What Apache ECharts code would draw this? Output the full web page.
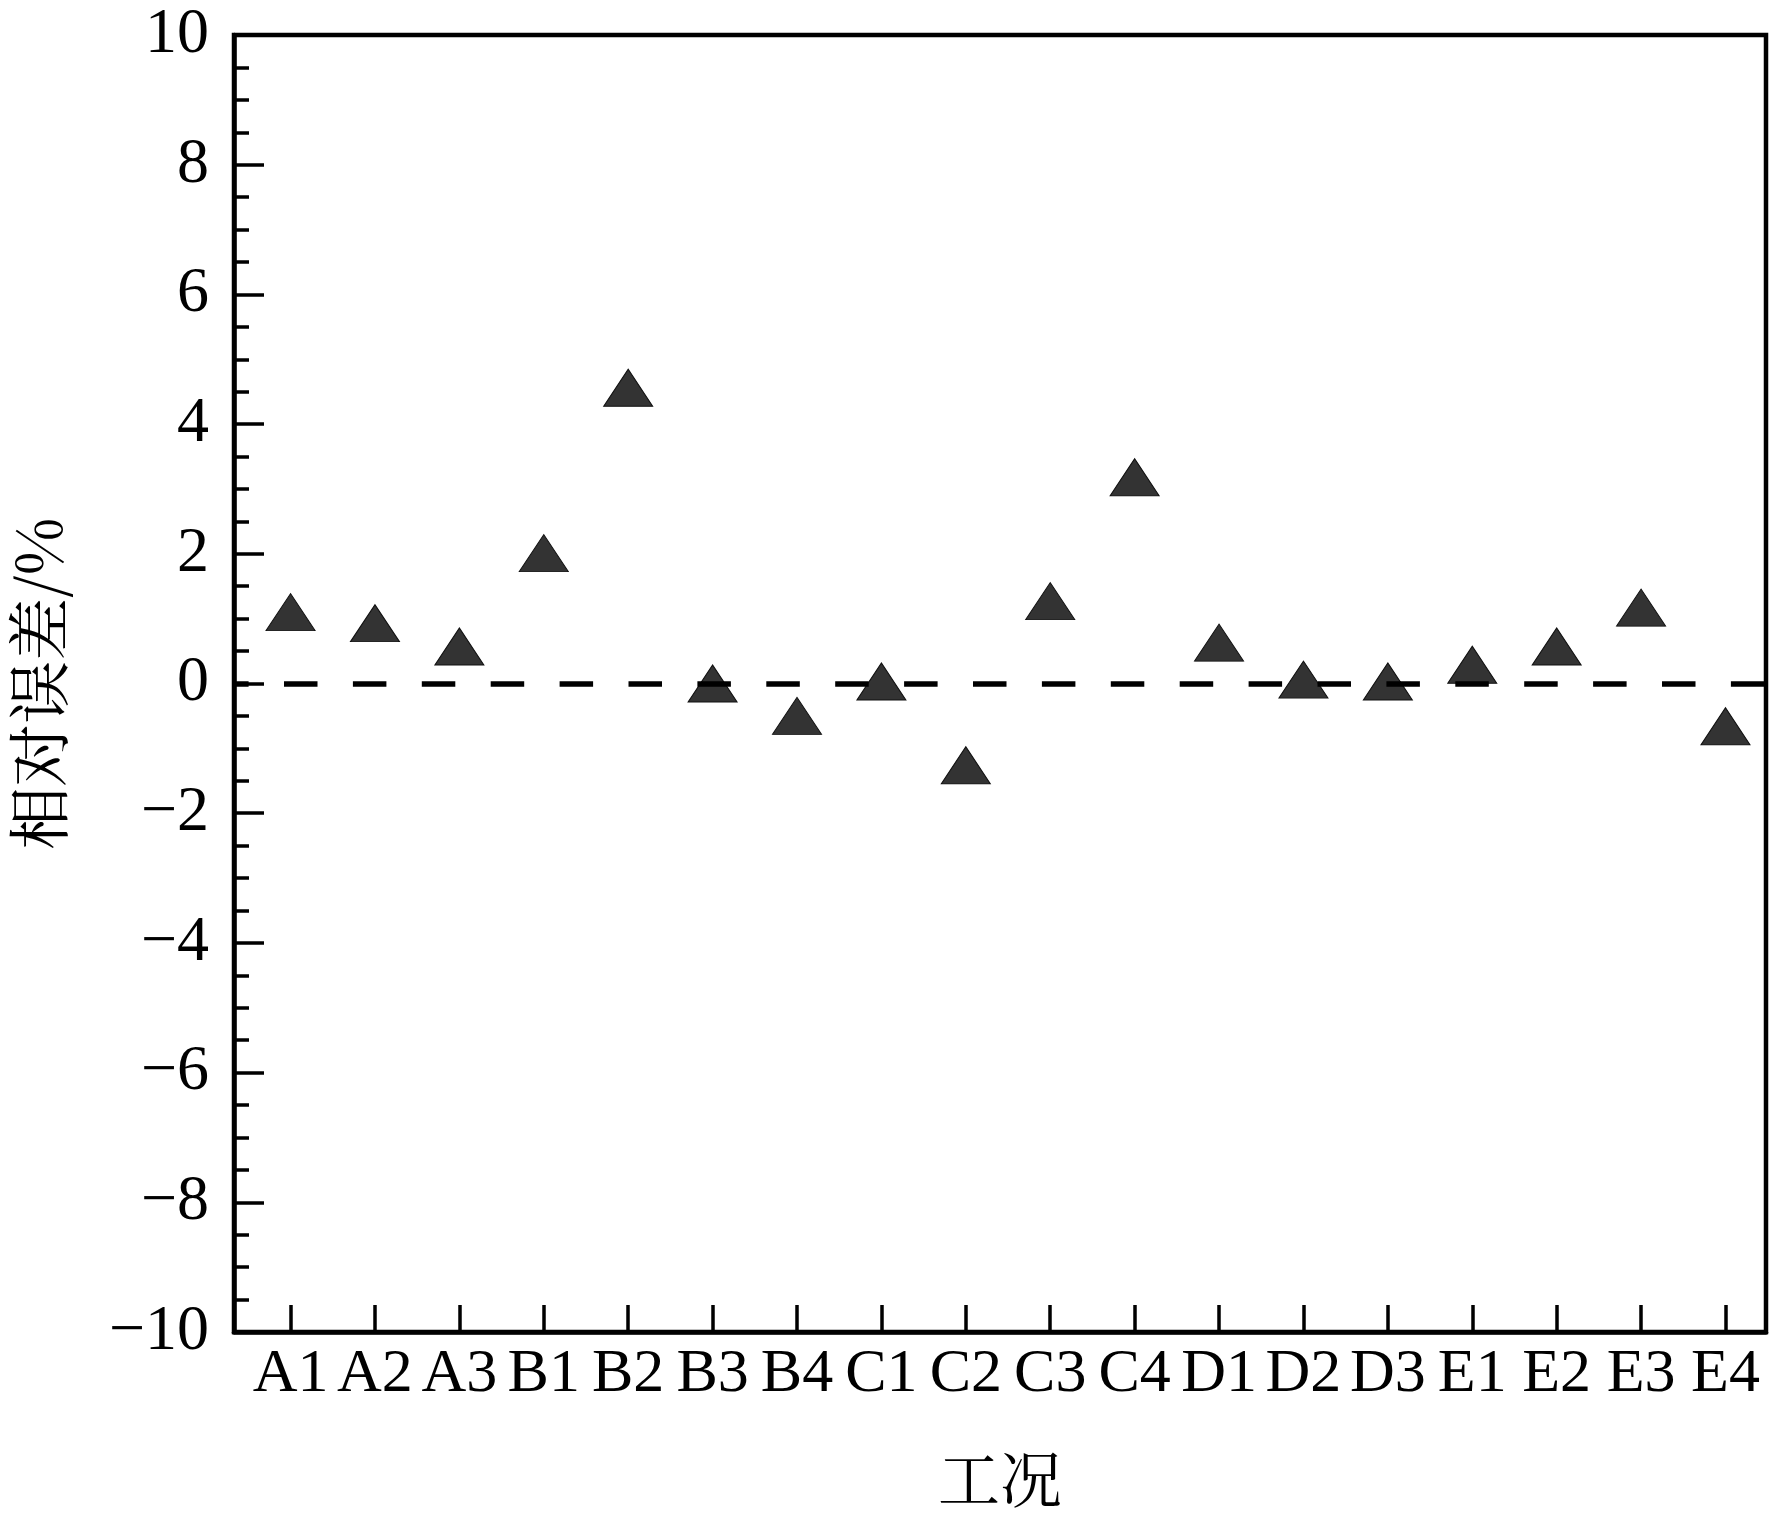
<!DOCTYPE html>
<html>
<head>
<meta charset="utf-8">
<title>相对误差</title>
<script src="https://cdn.jsdelivr.net/npm/echarts@6/dist/echarts.min.js"></script>
<style>
  html, body { margin: 0; padding: 0; background: #fff; }
  #main { width: 1772px; height: 1526px; }
</style>
</head>
<body>
<div id="main"></div>
<script>
// categories (工况)
var cases = ['A1', 'A2', 'A3', 'B1', 'B2', 'B3', 'B4', 'C1', 'C2', 'C3', 'C4',
             'D1', 'D2', 'D3', 'E1', 'E2', 'E3', 'E4'];
// relative error, %
var relErr = [1.10, 0.93, 0.57, 2.01, 4.56, 0.00, -0.50, 0.03, -1.26, 1.27, 3.18,
              0.63, 0.06, 0.03, 0.29, 0.57, 1.17, -0.66];
var yTicks = [-10, -8, -6, -4, -2, 0, 2, 4, 6, 8, 10];

var serif = "'Times New Roman', 'Liberation Serif', 'DejaVu Serif Condensed', 'DejaVu Serif', serif";
var cjk = "'Noto Serif CJK SC', 'Noto Sans CJK SC', sans-serif";

var idx = [];
var points = [];
for (var i = 0; i < cases.length; i++) {
    idx.push(i);
    points.push([i, relErr[i]]);
}

function minusSign(v) {
    return v < 0 ? '\u2212' + Math.abs(v) : String(v);
}

var option = {
    animation: false,
    backgroundColor: '#fff',
    grid: {
        left: 234, right: 6, top: 35, bottom: 194,
        outerBoundsMode: 'none',
        containLabel: false,
        show: true,
        borderColor: '#000',
        borderWidth: 4.5
    },
    xAxis: {
        type: 'value',
        min: -0.67,
        max: 17.48,
        name: '工况',
        nameLocation: 'middle',
        nameGap: 116,
        nameTextStyle: { fontFamily: cjk, fontSize: 62, color: '#000', verticalAlign: 'top' },
        axisLine: { show: true, onZero: false, lineStyle: { color: '#000', width: 4.5 } },
        axisTick: {
            show: true, inside: true, length: 27,
            customValues: idx,
            lineStyle: { color: '#000', width: 3.5 }
        },
        axisLabel: {
            customValues: idx,
            margin: 12,
            fontFamily: serif, fontSize: 62, color: '#000',
            formatter: function (v) { return cases[Math.round(v)]; }
        },
        splitLine: { show: false }
    },
    yAxis: {
        type: 'value',
        min: yTicks[0],
        max: yTicks[yTicks.length - 1],
        interval: 2,
        name: '相对误差/%',
        nameLocation: 'middle',
        nameGap: 164,
        nameTextStyle: { fontFamily: cjk, fontSize: 63, color: '#000' },
        axisLine: { show: true, onZero: false, lineStyle: { color: '#000', width: 4.5 } },
        axisTick: { show: true, inside: true, length: 30, lineStyle: { color: '#000', width: 3.5 } },
        minorTick: { show: true, splitNumber: 4, length: 15, lineStyle: { color: '#000', width: 3.5 } },
        axisLabel: {
            margin: 25,
            fontFamily: serif, fontSize: 64, color: '#000',
            formatter: minusSign
        },
        splitLine: { show: false }
    },
    series: [{
        type: 'scatter',
        data: points,
        symbol: 'triangle',
        symbolSize: [49, 37],
        itemStyle: { color: '#333333', opacity: 1, borderColor: '#111', borderWidth: 1 },
        markLine: {
            silent: true,
            symbol: ['none', 'none'],
            label: { show: false },
            lineStyle: { color: '#000', width: 5.5, type: [33.5, 35.4], dashOffset: 18.9 },
            data: [{ yAxis: 0 }]
        }
    }]
};

var chart = echarts.init(document.getElementById('main'));
chart.setOption(option);
</script>
</body>
</html>
